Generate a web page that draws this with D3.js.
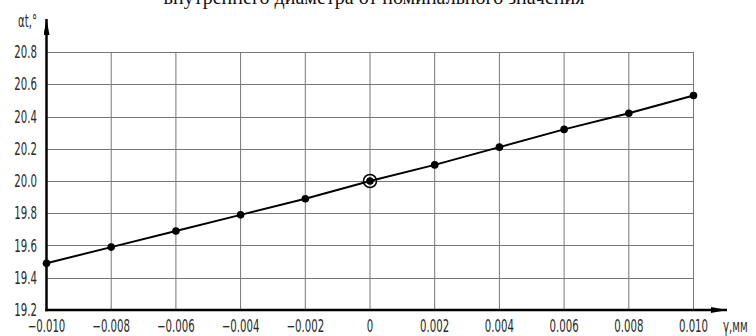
<!DOCTYPE html>
<html><head><meta charset="utf-8">
<script src="https://cdn.jsdelivr.net/npm/d3@7"></script>
<style>body{margin:0;background:#fff}svg{display:block}</style>
</head><body>
<svg id="c" width="756" height="336"></svg>
<script>
const xValues = [-0.010,-0.008,-0.006,-0.004,-0.002,0,0.002,0.004,0.006,0.008,0.010];
const yValues = [19.49,19.59,19.69,19.79,19.89,20.0,20.10,20.21,20.32,20.42,20.53];
const xTickLabels = ["\u22120.010","\u22120.008","\u22120.006","\u22120.004","\u22120.002","0","0.002","0.004","0.006","0.008","0.010"];
const yTicks = [19.2,19.4,19.6,19.8,20.0,20.2,20.4,20.6,20.8];
const yTickLabels = ["19.2","19.4","19.6","19.8","20.0","20.2","20.4","20.6","20.8"];
const title = "внутреннего диаметра от номинального значения";
const nominalIndex = 5;

const svg = d3.select("#c");
const x = d3.scaleLinear().domain([-0.010,0.010]).range([46.5,693.5]);
const y = d3.scaleLinear().domain([19.2,20.8]).range([310,52]);
const tickFont = "'DejaVu Sans',sans-serif";
const sx = 0.6;

svg.append("text").attr("x",374).attr("y",4).attr("text-anchor","middle")
  .attr("font-family","'Liberation Serif','Times New Roman',serif").attr("font-size",20)
  .attr("fill","#111").text(title);

// grid
const g = svg.append("g");
g.selectAll("line.v").data(xValues.slice(1)).join("line")
  .attr("x1",d=>x(d)).attr("x2",d=>x(d)).attr("y1",y(20.8)).attr("y2",y(19.2))
  .attr("stroke","#777").attr("stroke-width",1);
g.selectAll("line.h").data(yTicks.slice(1)).join("line")
  .attr("x1",x(-0.010)).attr("x2",x(0.010)).attr("y1",d=>Math.round(y(d))+0.5).attr("y2",d=>Math.round(y(d))+0.5)
  .attr("stroke","#777").attr("stroke-width",1);

// axes with arrows
svg.append("defs").append("marker").attr("id","arr").attr("viewBox","0 0 16 6")
  .attr("refX",16).attr("refY",3).attr("markerWidth",16).attr("markerHeight",6)
  .attr("markerUnits","userSpaceOnUse").attr("orient","auto")
  .append("path").attr("d","M0,0 L16,3 L0,6 Z").attr("fill","#000");
svg.append("line").attr("x1",x(-0.010)-1.2).attr("x2",727).attr("y1",y(19.2)).attr("y2",y(19.2))
  .attr("stroke","#000").attr("stroke-width",2.5).attr("marker-end","url(#arr)");
svg.append("line").attr("x1",x(-0.010)).attr("x2",x(-0.010)).attr("y1",y(19.2)+1.2).attr("y2",19)
  .attr("stroke","#000").attr("stroke-width",2.5).attr("marker-end","url(#arr)");

function condensed(sel, px, py){
  return sel.attr("transform",(d,i)=>`translate(${px(d,i)},${py(d,i)}) scale(${sx},1)`)
    .attr("font-family",tickFont).attr("font-size",17).attr("fill","#2a2a2a");
}
// tick labels
condensed(svg.selectAll("text.xt").data(xValues).join("text").attr("class","xt"), d=>x(d), ()=>332)
  .attr("text-anchor","middle").text((d,i)=>xTickLabels[i]);
condensed(svg.selectAll("text.yt").data(yTicks).join("text").attr("class","yt"), ()=>37, d=>y(d)+6)
  .attr("text-anchor","end").text((d,i)=>yTickLabels[i]);

// axis titles
condensed(svg.append("text"), ()=>18, ()=>27).text("αt,°");
condensed(svg.append("text"), ()=>723, ()=>332).text("γ,мм");

// data line
const line = d3.line().x((d,i)=>x(xValues[i])).y(d=>y(d));
svg.append("path").datum(yValues).attr("d",line).attr("fill","none").attr("stroke","#000").attr("stroke-width",2);
svg.selectAll("circle.p").data(yValues).join("circle")
  .attr("cx",(d,i)=>x(xValues[i])).attr("cy",d=>y(d)).attr("r",3.8).attr("fill","#000");
svg.append("circle").attr("cx",x(xValues[nominalIndex])).attr("cy",y(yValues[nominalIndex])).attr("r",6.5)
  .attr("fill","none").attr("stroke","#000").attr("stroke-width",1.5);
</script>
</body></html>
